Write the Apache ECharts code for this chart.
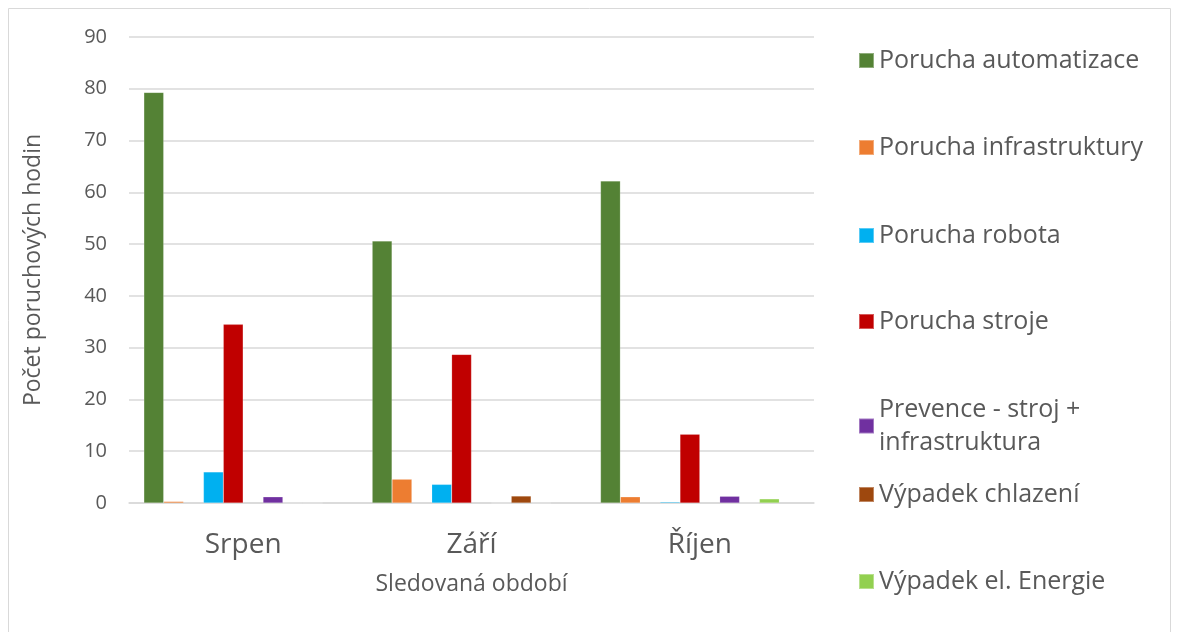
<!DOCTYPE html>
<html>
<head>
<meta charset="utf-8">
<script src="https://cdn.jsdelivr.net/npm/echarts@6/dist/echarts.min.js"></script>
<style>
  html, body { margin: 0; padding: 0; background: #fff; }
  #chart { width: 1178px; height: 632px; }
</style>
</head>
<body>
<div id="chart"></div>
<script>
const categories = ['Srpen', 'Září', 'Říjen'];
const yTicks = [0, 10, 20, 30, 40, 50, 60, 70, 80, 90];

const automatizace = [79.3, 50.6, 62.2];
const infrastruktura = [0.3, 4.6, 1.2];
const robot = [6.0, 3.6, 0.2];
const stroj = [34.5, 28.7, 13.3];
const prevence = [1.2, 0, 1.3];
const chlazeni = [0, 1.35, 0];
const energie = [0, 0, 0.8];
const empty = [null, null, null];

// empty slots keep the gaps between the bar groups (series without legend entry)
const seriesNames = [
  'Porucha automatizace',
  'Porucha infrastruktury',
  '',
  'Porucha robota',
  'Porucha stroje',
  ' ',
  'Prevence - stroj + infrastruktura',
  'Výpadek chlazení',
  'Výpadek el. Energie',
  '  '
];
const seriesData = [automatizace, infrastruktura, empty, robot, stroj, empty, prevence, chlazeni, energie, empty];
const colors = ['#548235', '#ED7D31', '#ffffff', '#00B0F0', '#C00000', '#ffffff', '#7030A0', '#9E480E', '#92D050', '#ffffff'];

const font = 'Open Sans';
const chart = echarts.init(document.getElementById('chart'));

const legendTops = [44, 131, 219, 305, 393, 478, 565];
const legendNames = seriesNames.filter(n => n.trim() !== '');
const legends = legendNames.map((n, i) => ({
  data: [n],
  left: 858,
  top: legendTops[i],
  padding: 0,
  itemWidth: 15,
  itemHeight: 15,
  itemGap: 8,
  icon: 'rect',
  selectedMode: false,
  formatter: name => name === 'Prevence - stroj + infrastruktura' ? 'Prevence - stroj +\ninfrastruktura' : name,
  textStyle: { fontFamily: font, fontSize: 25, color: '#595959', lineHeight: 33 }
}));

chart.setOption({
  animation: false,
  color: colors,
  textStyle: { fontFamily: font },
  graphic: [{
    type: 'rect',
    shape: { x: 8.5, y: 8.5, width: 1162, height: 640 },
    style: { fill: 'none', stroke: '#d9d9d9', lineWidth: 1 }
  }],
  legend: legends,
  grid: { left: 129, right: 364, top: 37, bottom: 129 },
  xAxis: {
    type: 'category',
    data: categories,
    name: 'Sledovaná období',
    nameLocation: 'middle',
    nameGap: 70,
    nameTextStyle: { fontFamily: font, fontSize: 23, color: '#595959' },
    axisLine: { lineStyle: { color: '#d9d9d9', width: 1.5 } },
    axisTick: { show: false },
    axisLabel: { fontFamily: font, fontSize: 28, color: '#595959', margin: 28 }
  },
  yAxis: {
    type: 'value',
    min: yTicks[0],
    max: yTicks[yTicks.length - 1],
    interval: 10,
    name: 'Počet poruchových hodin',
    nameLocation: 'middle',
    nameGap: 84,
    nameTextStyle: { fontFamily: font, fontSize: 23, color: '#595959' },
    axisLine: { show: false },
    axisTick: { show: false },
    axisLabel: { fontFamily: font, fontSize: 20, color: '#595959', margin: 22 },
    splitLine: { lineStyle: { color: '#d9d9d9', width: 1.5 } }
  },
  series: seriesNames.map((n, i) => ({
    name: n,
    type: 'bar',
    data: seriesData[i],
    barGap: '0%',
    barCategoryGap: '13%',
    itemStyle: { color: colors[i], borderColor: 'rgba(255,255,255,0.35)', borderWidth: 0.5 }
  }))
});
</script>
</body>
</html>
